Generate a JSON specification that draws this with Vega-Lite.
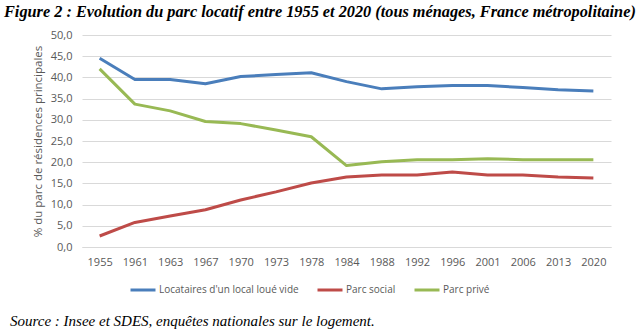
{
  "$schema": "https://vega.github.io/schema/vega-lite/v6.json",
  "padding": {"left": 4, "top": 3, "right": 0, "bottom": 0},
  "background": "white",
  "title": {
    "text": "Figure 2 : Evolution du parc locatif entre 1955 et 2020 (tous ménages, France métropolitaine)",
    "anchor": "start",
    "frame": "bounds",
    "dx": -6,
    "offset": 9,
    "font": "Liberation Serif",
    "fontSize": 16.3,
    "fontStyle": "italic",
    "fontWeight": "bold",
    "color": "black"
  },
  "data": {
    "values": [
      {"annee": "1955", "serie": "Locataires d'un local loué vide", "v": 44.5},
      {"annee": "1961", "serie": "Locataires d'un local loué vide", "v": 39.5},
      {"annee": "1963", "serie": "Locataires d'un local loué vide", "v": 39.5},
      {"annee": "1967", "serie": "Locataires d'un local loué vide", "v": 38.5},
      {"annee": "1970", "serie": "Locataires d'un local loué vide", "v": 40.2},
      {"annee": "1973", "serie": "Locataires d'un local loué vide", "v": 40.7},
      {"annee": "1978", "serie": "Locataires d'un local loué vide", "v": 41.1},
      {"annee": "1984", "serie": "Locataires d'un local loué vide", "v": 39.0},
      {"annee": "1988", "serie": "Locataires d'un local loué vide", "v": 37.3},
      {"annee": "1992", "serie": "Locataires d'un local loué vide", "v": 37.8},
      {"annee": "1996", "serie": "Locataires d'un local loué vide", "v": 38.1},
      {"annee": "2001", "serie": "Locataires d'un local loué vide", "v": 38.1},
      {"annee": "2006", "serie": "Locataires d'un local loué vide", "v": 37.6},
      {"annee": "2013", "serie": "Locataires d'un local loué vide", "v": 37.1},
      {"annee": "2020", "serie": "Locataires d'un local loué vide", "v": 36.8},
      {"annee": "1955", "serie": "Parc social", "v": 2.6},
      {"annee": "1961", "serie": "Parc social", "v": 5.8},
      {"annee": "1963", "serie": "Parc social", "v": 7.3},
      {"annee": "1967", "serie": "Parc social", "v": 8.8},
      {"annee": "1970", "serie": "Parc social", "v": 11.1},
      {"annee": "1973", "serie": "Parc social", "v": 13.0},
      {"annee": "1978", "serie": "Parc social", "v": 15.1},
      {"annee": "1984", "serie": "Parc social", "v": 16.5},
      {"annee": "1988", "serie": "Parc social", "v": 17.0},
      {"annee": "1992", "serie": "Parc social", "v": 17.0},
      {"annee": "1996", "serie": "Parc social", "v": 17.7},
      {"annee": "2001", "serie": "Parc social", "v": 17.0},
      {"annee": "2006", "serie": "Parc social", "v": 17.0},
      {"annee": "2013", "serie": "Parc social", "v": 16.5},
      {"annee": "2020", "serie": "Parc social", "v": 16.3},
      {"annee": "1955", "serie": "Parc privé", "v": 42.0},
      {"annee": "1961", "serie": "Parc privé", "v": 33.7},
      {"annee": "1963", "serie": "Parc privé", "v": 32.1},
      {"annee": "1967", "serie": "Parc privé", "v": 29.6},
      {"annee": "1970", "serie": "Parc privé", "v": 29.1},
      {"annee": "1973", "serie": "Parc privé", "v": 27.6},
      {"annee": "1978", "serie": "Parc privé", "v": 26.0},
      {"annee": "1984", "serie": "Parc privé", "v": 19.2},
      {"annee": "1988", "serie": "Parc privé", "v": 20.1},
      {"annee": "1992", "serie": "Parc privé", "v": 20.6},
      {"annee": "1996", "serie": "Parc privé", "v": 20.6},
      {"annee": "2001", "serie": "Parc privé", "v": 20.8},
      {"annee": "2006", "serie": "Parc privé", "v": 20.6},
      {"annee": "2013", "serie": "Parc privé", "v": 20.6},
      {"annee": "2020", "serie": "Parc privé", "v": 20.6}
    ]
  },
  "resolve": {"legend": {"color": "independent"}},
  "vconcat": [
    {
      "width": 529,
      "height": 212,
      "title": {
        "text": "Source : Insee et SDES, enquêtes nationales sur le logement.",
        "orient": "bottom",
        "anchor": "start",
        "frame": "group",
        "dx": -72,
        "offset": 18,
        "font": "Liberation Serif",
        "fontSize": 15,
        "fontStyle": "italic",
        "fontWeight": "normal",
        "color": "black"
      },
      "mark": {"type": "line", "strokeWidth": 3, "strokeCap": "butt", "strokeJoin": "round"},
      "encoding": {
        "x": {
          "field": "annee",
          "type": "ordinal",
          "scale": {"type": "point", "padding": 0.5},
          "axis": {
            "title": null,
            "labelAngle": 0,
            "ticks": false,
            "grid": false,
            "domainColor": "#D9D9D9",
            "labelPadding": 9,
            "labelFont": "Open Sans",
            "labelFontSize": 11,
            "labelColor": "#595959"
          }
        },
        "y": {
          "field": "v",
          "type": "quantitative",
          "scale": {"domain": [0, 50], "nice": false},
          "axis": {
            "title": "% du parc de résidences principales",
            "values": [0, 5, 10, 15, 20, 25, 30, 35, 40, 45, 50],
            "labelExpr": "replace(format(datum.value, '.1f'), '.', ',')",
            "ticks": false,
            "domain": false,
            "gridColor": "#D9D9D9",
            "labelPadding": 10,
            "labelFont": "Open Sans",
            "labelFontSize": 11,
            "labelColor": "#595959",
            "titleFont": "Open Sans",
            "titleFontSize": 11.5,
            "titleFontWeight": "normal",
            "titleColor": "#595959",
            "titlePadding": 7
          }
        },
        "color": {
          "field": "serie",
          "type": "nominal",
          "scale": {
            "domain": ["Locataires d'un local loué vide", "Parc social", "Parc privé"],
            "range": ["#4A7EBB", "#BE4B48", "#98B954"]
          },
          "legend": {
            "title": null,
            "orient": "none",
            "legendX": 47,
            "legendY": 241,
            "direction": "horizontal",
            "symbolType": "stroke",
            "symbolSize": 625,
            "symbolStrokeWidth": 3,
            "labelFont": "Open Sans",
            "labelFontSize": 10,
            "labelColor": "#595959",
            "labelOffset": 2,
            "columnPadding": 12
          }
        }
      }
    }
  ],
  "config": {
    "view": {"stroke": null}
  }
}
